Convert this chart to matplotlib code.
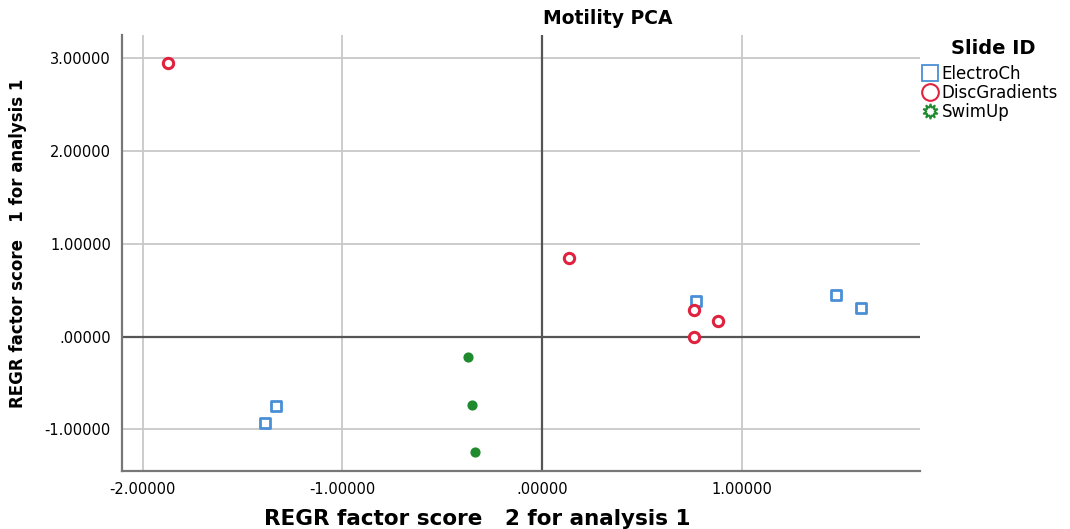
import matplotlib.pyplot as plt
from matplotlib.lines import Line2D

plt.rcParams['font.family'] = ['DejaVu Sans']

# factor scores per slide preparation
electro_x = [-1.388, -1.333, 0.772, 1.474, 1.599]
electro_y = [-0.93, -0.745, 0.378, 0.453, 0.313]
disc_x = [-1.875, 0.135, 0.762, 0.882, 0.762]
disc_y = [2.945, 0.852, 0.29, 0.17, -0.01]
swim_x = [-0.371, -0.351, -0.336]
swim_y = [-0.216, -0.734, -1.25]

xticks = [-2, -1, 0, 1]
yticks = [-1, 0, 1, 2, 3]

def fmt(v):
    s = '%.5f' % v
    return s.replace('0.', '.', 1) if v == 0 else s

blue = '#4a8fd6'
red = '#e0223f'
green = '#1f8a2e'

fig = plt.figure(figsize=(10.7, 5.29), dpi=100)
ax = fig.add_axes([0.114, 0.1096, 0.746, 0.824])

ax.scatter(electro_x, electro_y, marker='s', s=50, facecolors='white',
           edgecolors=blue, linewidths=2, zorder=3)
ax.scatter(disc_x, disc_y, marker='o', s=55, facecolors='white',
           edgecolors=red, linewidths=2.2, zorder=3)
ax.scatter(swim_x, swim_y, marker='o', s=40, facecolors=green,
           edgecolors=green, linewidths=1, zorder=3)

ax.set_xlim(-2.105, 1.895)
ax.set_ylim(-1.45, 3.25)
ax.set_xticks(xticks)
ax.set_yticks(yticks)
ax.set_xticklabels([fmt(v) for v in xticks], fontsize=10.5)
ax.set_yticklabels([fmt(v) for v in yticks], fontsize=10.5)
ax.tick_params(length=0, pad=8)
ax.grid(True, color='#c8c8c8', linewidth=1.3)
ax.set_axisbelow(True)

ax.axhline(0, color='#555555', linewidth=1.6, zorder=2)
ax.axvline(0, color='#555555', linewidth=1.6, zorder=2)

for side in ['top', 'right']:
    ax.spines[side].set_visible(False)
for side in ['left', 'bottom']:
    ax.spines[side].set_color('#777777')
    ax.spines[side].set_linewidth(1.6)

fig.text(0.568, 0.965, 'Motility PCA', ha='center', va='center',
         fontsize=13.5, fontweight='bold')
fig.text(0.446, 0.018, 'REGR factor score   2 for analysis 1', ha='center',
         va='center', fontsize=15.5, fontweight='bold')
fig.text(0.017, 0.54, 'REGR factor score   1 for analysis 1', ha='center',
         va='center', rotation=90, fontsize=12, fontweight='bold')

# legend title drawn on its own so the gap above the entries can be set
fig.text(0.928, 0.909, 'Slide ID', ha='center', va='center',
         fontsize=14, fontweight='bold')

handles = [
    Line2D([], [], linestyle='none', marker='s', markersize=11,
           markerfacecolor='white', markeredgecolor=blue, markeredgewidth=1.3),
    Line2D([], [], linestyle='none', marker='o', markersize=12,
           markerfacecolor='white', markeredgecolor=red, markeredgewidth=1.5),
    Line2D([], [], linestyle='none', marker=(10, 1, 0), markersize=11,
           markerfacecolor='white', markeredgecolor=green, markeredgewidth=1.3),
]
leg = fig.legend(handles, ['ElectroCh', 'DiscGradients', 'SwimUp'],
                 loc='upper left', bbox_to_anchor=(0.86, 0.877),
                 frameon=False, fontsize=12, handletextpad=0.1,
                 handlelength=1.2, labelspacing=0.05, borderaxespad=0,
                 borderpad=0)

fig.savefig('out.png', dpi=100)
